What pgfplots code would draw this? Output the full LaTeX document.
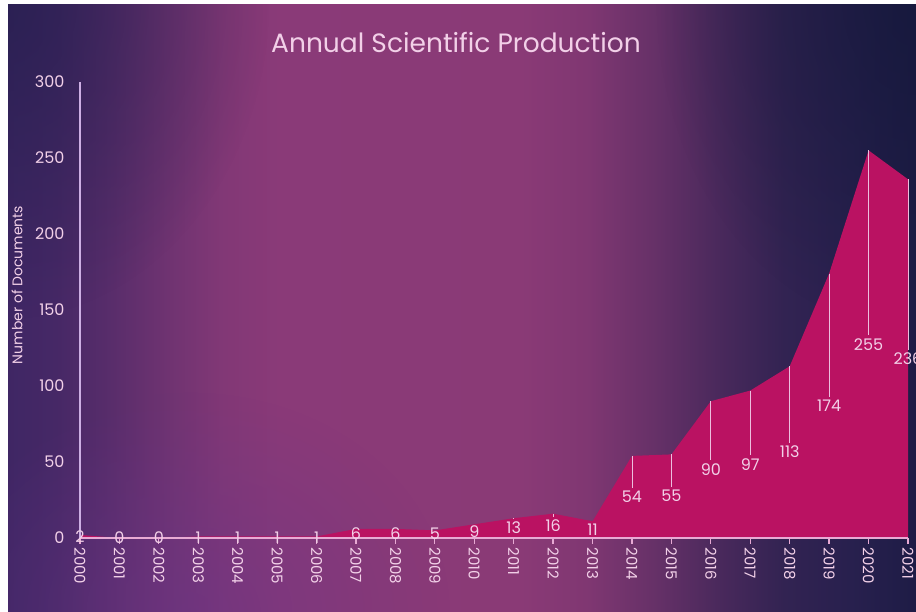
\documentclass[border=0pt]{standalone}
\usepackage{fontspec}
\setmainfont{Poppins}
\usepackage{pgfplots}
\usepackage{pgfplotstable}
\pgfplotsset{compat=1.18}
\usetikzlibrary{fadings,shadings}

\definecolor{areacol}{RGB}{186,18,98}
\definecolor{txtcol}{RGB}{242,208,232}
\definecolor{xaxcol}{RGB}{232,170,212}
\definecolor{yaxcol}{RGB}{205,175,228}
\definecolor{leadcol}{RGB}{236,190,222}
\definecolor{s0}{RGB}{62,38,100}
\definecolor{s1}{RGB}{70,40,102}
\definecolor{s2}{RGB}{89,45,107}
\definecolor{s3}{RGB}{111,51,113}
\definecolor{s4}{RGB}{130,56,118}
\definecolor{s5}{RGB}{138,58,120}
\definecolor{s6}{RGB}{138,58,118}
\definecolor{s7}{RGB}{128,55,114}
\definecolor{s8}{RGB}{103,49,104}
\definecolor{s9}{RGB}{74,41,92}
\definecolor{s10}{RGB}{50,35,82}
\definecolor{s11}{RGB}{40,32,78}
\definecolor{s12}{RGB}{30,28,70}
\definecolor{darkTL}{RGB}{34,30,76}
\definecolor{darkTR}{RGB}{20,24,58}
\definecolor{violet}{RGB}{105,52,135}

\pgfdeclarehorizontalshading{bgshade}{100bp}{color(0bp)=(s0); color(25bp)=(s0); color(28.06bp)=(s1); color(31.11bp)=(s2); color(34.17bp)=(s3); color(37.23bp)=(s4); color(40.29bp)=(s5); color(53.39bp)=(s6); color(56.99bp)=(s7); color(60.59bp)=(s8); color(64.2bp)=(s9); color(67.8bp)=(s10); color(71.4bp)=(s11); color(75bp)=(s12); color(100bp)=(s12)}

\tikzfading[name=fadeA, inner color=transparent!30, outer color=transparent!100]
\tikzfading[name=fadeB, inner color=transparent!45, outer color=transparent!100]

\pgfplotstableread{
x y
2000 2
2001 0
2002 0
2003 1
2004 1
2005 1
2006 1
2007 6
2008 6
2009 5
2010 9
2011 13
2012 16
2013 11
2014 54
2015 55
2016 90
2017 97
2018 113
2019 174
2020 255
2021 236
}\datatable

\begin{document}
\begin{tikzpicture}[x=1pt,y=1pt]
\path[use as bounding box] (0,0) rectangle (916,612);
\clip (0,0) rectangle (916,612);
\fill[white] (0,0) rectangle (916,612);
\begin{scope}
\clip (8,0) rectangle (916,607);
\shade[shading=bgshade] (0,0) rectangle (916,612);
\fill[darkTL, path fading=fadeA] (0,612) ellipse [x radius=270, y radius=320];
\fill[darkTR, path fading=fadeA] (916,612) ellipse [x radius=260, y radius=330];
\fill[violet, path fading=fadeB] (190,0) ellipse [x radius=260, y radius=220];
\end{scope}
\begin{axis}[
  at={(80pt,74pt)}, anchor=south west,
  scale only axis, width=828pt, height=456pt,
  xmin=2000, xmax=2021, ymin=0, ymax=300,
  clip=false, axis on top,
  axis lines*=left,
  axis line style={-},
  x axis line style={draw=xaxcol, line width=1.5pt},
  y axis line style={draw=yaxcol, line width=1.2pt},
  xtick={2000,...,2021},
  ytick={0,50,...,300},
  tick align=outside,
  major tick length=6pt,
  xtick style={draw=xaxcol, line width=1.2pt},
  ytick style={draw=none},
  /pgf/number format/assume math mode=true,
  /pgf/number format/1000 sep={},
  xticklabel style={rotate=-90, anchor=west, text=txtcol, font=\fontsize{15}{17}\selectfont},
  yticklabel style={text=txtcol, font=\fontsize{16}{18}\selectfont, xshift=-6pt},
  ylabel={Number of Documents},
  ylabel style={at={(axis description cs:-0.076,0.555)}, anchor=center, text=txtcol, font=\fontsize{14}{16}\selectfont},
]
\addplot[fill=areacol, draw=none] table[x=x, y=y] {\datatable} \closedcycle;
\addplot[draw=none, mark=none, forget plot,
  error bars/.cd, y dir=minus, y explicit, error mark=none,
  error bar style={draw=leadcol, solid, line width=1pt}]
  table[x=x, y=y, y error expr={max(\thisrow{y}/2-6,0)}] {\datatable};
\addplot[draw=none, mark=none, nodes near coords, point meta=explicit,
  nodes near coords align={center},
  every node near coord/.append style={text=txtcol, anchor=center, font=\fontsize{16}{18}\selectfont}]
  table[x=x, y expr=\thisrow{y}/2, meta=y] {\datatable};
\end{axis}
\node[text=txtcol, font=\fontsize{26.5}{30}\selectfont] at (456,569) {Annual Scientific Production};
\end{tikzpicture}
\end{document}
